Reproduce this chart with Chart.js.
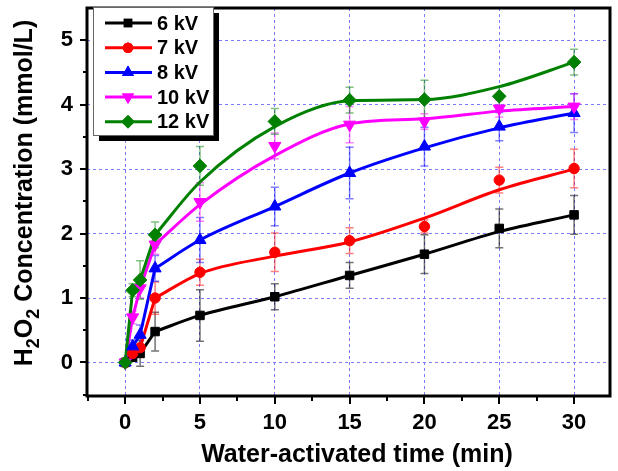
<!DOCTYPE html>
<html>
<head>
<meta charset="utf-8">
<script src="https://cdn.jsdelivr.net/npm/chart.js@4.4.0/dist/chart.umd.min.js"></script>
<style>
  html, body { margin: 0; padding: 0; background: #fff; }
</style>
</head>
<body>
<canvas id="chart" width="618" height="471"></canvas>
<script>
// sampling times (min)
const times = [0, 0.5, 1, 2, 5, 10, 15, 20, 25, 30];
const seriesNames = ["6 kV", "7 kV", "8 kV", "10 kV", "12 kV"];

// measured H2O2 concentration (mmol/L)
const conc6 = [0, 0.08, 0.14, 0.48, 0.73, 1.02, 1.35, 1.68, 2.08, 2.29];
const conc7 = [0, 0.14, 0.23, 1.0, 1.4, 1.71, 1.89, 2.11, 2.83, 3.01];
const conc8 = [0, 0.25, 0.43, 1.46, 1.9, 2.42, 2.94, 3.35, 3.66, 3.87];
const conc10 = [0, 0.7, 1.15, 1.83, 2.49, 3.36, 3.69, 3.74, 3.94, 3.97];
const conc12 = [0, 1.12, 1.28, 1.98, 3.05, 3.74, 4.07, 4.08, 4.13, 4.66];

// error bar half-heights
const err6 = [0, 0.05, 0.2, 0.3, 0.4, 0.2, 0.2, 0.3, 0.3, 0.3];
const err7 = [0, 0.1, 0.15, 0.25, 0.2, 0.3, 0.2, 0.1, 0.2, 0.3];
const err8 = [0, 0.1, 0.15, 0.2, 0.35, 0.3, 0.4, 0.3, 0.22, 0.3];
const err10 = [0, 0.1, 0.15, 0.15, 0.3, 0.2, 0.28, 0.12, 0.13, 0.2];
const err12 = [0, 0.1, 0.3, 0.2, 0.3, 0.2, 0.2, 0.3, 0.15, 0.2];

// early part: straight segments through the points (first 4 times)
const earlyCount = 4;
// fitted curves from 2 min on
const fitTimes = [2, 5, 10, 15, 20, 25, 30];
const fit6 = [0.48, 0.73, 1.02, 1.35, 1.68, 2.03, 2.29];
const fit7 = [1.0, 1.38, 1.65, 1.87, 2.24, 2.68, 3.0];
const fit8 = [1.46, 1.9, 2.42, 2.94, 3.33, 3.64, 3.87];
const fit10 = [1.83, 2.45, 3.21, 3.7, 3.78, 3.9, 3.97];
const fit12 = [1.98, 2.8, 3.66, 4.06, 4.08, 4.28, 4.66];

const xTicks = [0, 5, 10, 15, 20, 25, 30];
const yTicks = [0, 1, 2, 3, 4, 5];

const colors = ["#000000", "#ff0000", "#0000ff", "#ff00ff", "#008000"];
const barColors = ["rgba(0,0,0,0.55)", "rgba(255,0,0,0.5)", "rgba(0,0,255,0.5)", "rgba(255,0,255,0.5)", "rgba(0,128,0,0.5)"];
const markers = [
  { style: "rect", radius: 6, rotation: 0 },
  { style: "circle", radius: 5.2, rotation: 0 },
  { style: "triangle", radius: 7, rotation: 0 },
  { style: "triangle", radius: 7, rotation: 180 },
  { style: "rectRot", radius: 6.8, rotation: 0 }
];

const concs = [conc6, conc7, conc8, conc10, conc12];
const errs = [err6, err7, err8, err10, err12];
const fits = [fit6, fit7, fit8, fit10, fit12];

const toPts = (xs, arr) => arr.map((v, i) => ({ x: xs[i], y: v }));

const datasets = [];
// points, 12 kV first so it is drawn on top
for (let k = concs.length - 1; k >= 0; k--) {
  datasets.push({
    label: seriesNames[k],
    data: toPts(times, concs[k]),
    showLine: false,
    pointStyle: markers[k].style,
    pointRadius: markers[k].radius,
    pointRotation: markers[k].rotation,
    pointBackgroundColor: colors[k],
    pointBorderColor: colors[k],
    pointBorderWidth: 1
  });
}
for (let k = fits.length - 1; k >= 0; k--) {
  datasets.push({
    label: seriesNames[k] + " fit",
    data: toPts(fitTimes, fits[k]),
    showLine: true,
    borderColor: colors[k],
    borderWidth: 3,
    pointRadius: 0,
    cubicInterpolationMode: "monotone"
  });
  datasets.push({
    label: seriesNames[k] + " early",
    data: toPts(times, concs[k].slice(0, earlyCount)),
    showLine: true,
    borderColor: colors[k],
    borderWidth: 3,
    pointRadius: 0,
    tension: 0
  });
}

const errorBars = {
  id: "errorBars",
  beforeDatasetsDraw(chart) {
    const ctx = chart.ctx;
    const xs = chart.scales.x, ys = chart.scales.y;
    ctx.save();
    ctx.lineWidth = 1.5;
    for (let k = 0; k < concs.length; k++) {
      ctx.strokeStyle = barColors[k];
      times.forEach((t, i) => {
        const e = errs[k][i];
        if (!e) return;
        const px = xs.getPixelForValue(t);
        const top = ys.getPixelForValue(concs[k][i] + e);
        const bot = ys.getPixelForValue(concs[k][i] - e);
        ctx.beginPath();
        ctx.moveTo(px, top); ctx.lineTo(px, bot);
        ctx.moveTo(px - 4, top); ctx.lineTo(px + 4, top);
        ctx.moveTo(px - 4, bot); ctx.lineTo(px + 4, bot);
        ctx.stroke();
      });
    }
    ctx.restore();
  }
};

const frameAndText = {
  id: "frameAndText",
  afterDraw(chart) {
    const ctx = chart.ctx;
    const a = chart.chartArea;
    const xs = chart.scales.x, ys = chart.scales.y;
    ctx.save();
    // ticks
    ctx.strokeStyle = "#000";
    ctx.lineWidth = 2;
    ctx.beginPath();
    for (let v = -0.5; v <= 5.01; v += 0.5) {
      const py = Math.round(ys.getPixelForValue(v));
      const len = Math.abs(v - Math.round(v)) < 0.01 ? 7 : 4;
      ctx.moveTo(a.left, py); ctx.lineTo(a.left - len, py);
    }
    for (let v = -2.5; v <= 30.01; v += 2.5) {
      const px = Math.round(xs.getPixelForValue(v));
      const len = v % 5 === 0 ? 8 : 5;
      ctx.moveTo(px, a.bottom); ctx.lineTo(px, a.bottom + len);
    }
    ctx.stroke();
    // frame
    ctx.lineWidth = 3;
    ctx.strokeRect(a.left, a.top, a.right - a.left, a.bottom - a.top);

    // x title
    ctx.fillStyle = "#000";
    ctx.font = "bold 25px 'Liberation Sans', Arial, sans-serif";
    ctx.textAlign = "center";
    ctx.textBaseline = "middle";
    ctx.fillText("Water-activated time (min)", 357, 455);

    // y title with subscripts
    const parts = [["H", false], ["2", true], ["O", false], ["2", true], [" Concentration (mmol/L)", false]];
    const big = "bold 25px 'Liberation Sans', Arial, sans-serif";
    const small = "bold 18px 'Liberation Sans', Arial, sans-serif";
    let total = 0;
    parts.forEach(p => { ctx.font = p[1] ? small : big; total += ctx.measureText(p[0]).width; });
    ctx.translate(32, 193);
    ctx.rotate(-Math.PI / 2);
    ctx.textAlign = "left";
    ctx.textBaseline = "alphabetic";
    let cx = -total / 2;
    parts.forEach(p => {
      ctx.font = p[1] ? small : big;
      ctx.fillText(p[0], cx, p[1] ? 7 : 0);
      cx += ctx.measureText(p[0]).width;
    });
    ctx.restore();

    // legend
    ctx.save();
    const lx = 93, ly = 7, lw = 120, lh = 128;
    ctx.fillStyle = "#000";
    ctx.fillRect(lx + 6, ly + 6, lw, lh);
    ctx.fillStyle = "#fff";
    ctx.fillRect(lx, ly, lw, lh);
    ctx.strokeStyle = "#666";
    ctx.lineWidth = 1;
    ctx.strokeRect(lx + 0.5, ly + 0.5, lw, lh);
    ctx.font = "bold 20px 'Liberation Sans', Arial, sans-serif";
    ctx.textBaseline = "middle";
    ctx.textAlign = "left";
    seriesNames.forEach((name, k) => {
      const ry = 23 + k * 24.7;
      ctx.strokeStyle = colors[k];
      ctx.lineWidth = 3;
      ctx.beginPath();
      ctx.moveTo(105, ry); ctx.lineTo(152, ry);
      ctx.stroke();
      ctx.fillStyle = colors[k];
      ctx.lineWidth = 1;
      Chart.helpers.drawPoint(ctx, { pointStyle: markers[k].style, radius: markers[k].radius, rotation: markers[k].rotation }, 128, ry);
      ctx.fill();
      ctx.fillStyle = "#000";
      ctx.fillText(name, 157, ry + 1);
    });
    ctx.restore();
  }
};

new Chart(document.getElementById("chart"), {
  type: "scatter",
  data: { datasets },
  options: {
    responsive: false,
    animation: false,
    layout: { padding: { left: 0, right: 4, top: 5, bottom: 0 } },
    plugins: { legend: { display: false }, tooltip: { enabled: false } },
    scales: {
      x: {
        type: "linear",
        min: -2.55,
        max: 32.4,
        afterBuildTicks: s => { s.ticks = xTicks.map(v => ({ value: v })); },
        afterFit: s => { s.height = 75; s.paddingLeft = 0; s.paddingRight = 0; },
        ticks: { color: "#000", padding: 14, font: { size: 22, weight: "bold", family: "'Liberation Sans', Arial, sans-serif" } },
        grid: { color: "#7b7bff", lineWidth: 1, drawTicks: false },
        border: { display: false, dash: [3, 3] }
      },
      y: {
        type: "linear",
        min: -0.52,
        max: 5.5,
        afterBuildTicks: s => { s.ticks = yTicks.map(v => ({ value: v })); },
        afterFit: s => { s.width = 87; s.paddingTop = 0; s.paddingBottom = 0; },
        ticks: { color: "#000", padding: 14, font: { size: 22, weight: "bold", family: "'Liberation Sans', Arial, sans-serif" } },
        grid: { color: "#7b7bff", lineWidth: 1, drawTicks: false },
        border: { display: false, dash: [3, 3] }
      }
    }
  },
  plugins: [errorBars, frameAndText]
});
</script>
</body>
</html>
